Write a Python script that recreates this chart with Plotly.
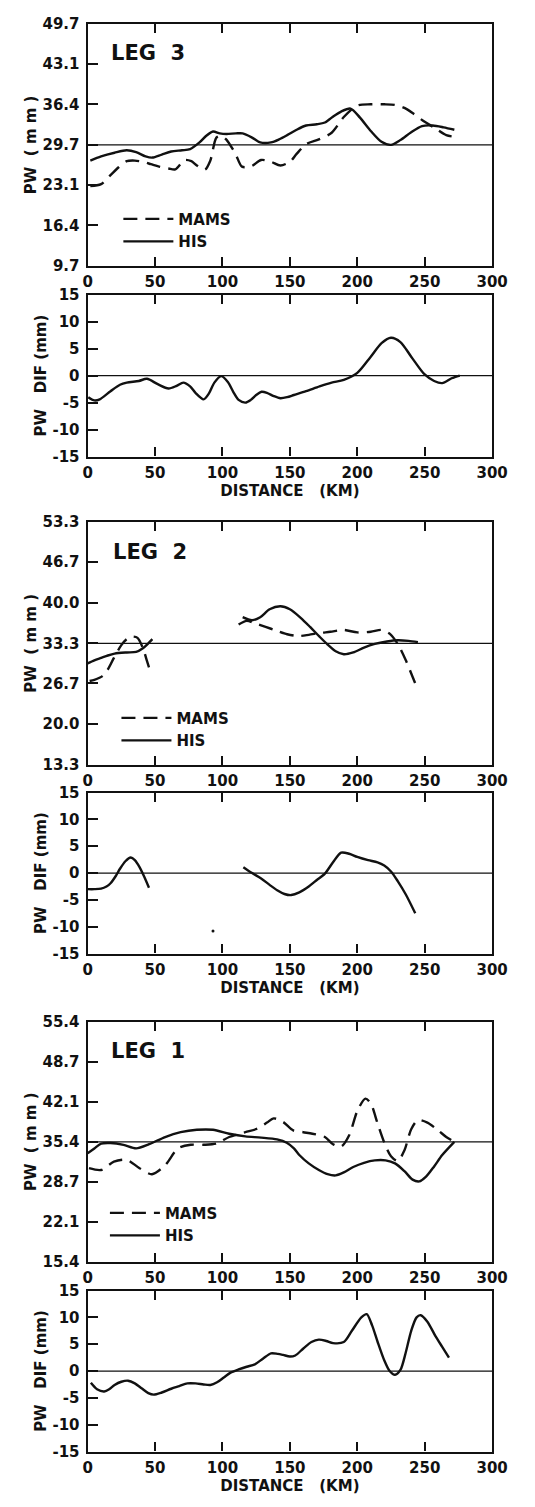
import plotly.graph_objects as go

W, H = 535, 1507

# ---------------- data ----------------
# LEG 3
leg3_his_x = [2, 10, 20, 29, 36, 43, 48, 55, 62, 70, 76, 83, 88, 93, 98, 103, 110, 115, 122, 128, 136, 142, 148, 155, 162, 170, 176, 181, 188, 195, 202, 210, 218, 225, 232, 240, 248, 256, 264, 272]
leg3_his_y = [27.1, 27.8, 28.4, 28.8, 28.5, 27.8, 27.6, 28.1, 28.6, 28.8, 29.0, 30.1, 31.2, 31.9, 31.6, 31.5, 31.6, 31.6, 30.9, 30.1, 30.1, 30.6, 31.3, 32.2, 32.9, 33.1, 33.4, 34.2, 35.2, 35.7, 34.2, 32.0, 30.2, 29.7, 30.5, 31.8, 32.8, 32.9, 32.6, 32.2]
leg3_mams_x = [2, 10, 17, 23, 29, 35, 41, 47, 53, 60, 65, 72, 77, 81, 87, 91, 95.5, 99, 102.6, 109.7, 114.5, 121.6, 128.7, 136, 143, 150, 155, 162, 171.5, 181, 190, 200, 210, 220, 228, 235, 242, 250, 258, 266, 273]
leg3_mams_y = [22.9, 23.2, 24.7, 26.0, 27.0, 27.1, 26.9, 26.5, 26.1, 25.8, 25.65, 27.2, 27.0, 26.3, 25.6, 27.1, 30.9, 31.2, 30.65, 28.2, 26.1, 26.2, 27.2, 26.9, 26.3, 26.9, 28.2, 29.8, 30.6, 31.7, 34.3, 36.2, 36.4, 36.4, 36.3, 35.8, 34.8, 33.5, 32.4, 31.3, 31.0]
leg3_dif_x = [0.5, 5, 9, 17, 24, 29, 38, 44, 52, 60, 66, 71, 76, 80, 86, 90, 94, 99, 104, 108, 112, 117, 121, 125, 129, 133, 138, 143, 148, 153, 162, 172, 181, 190, 200, 210, 218, 225, 232, 240, 250, 257, 263, 270, 276]
leg3_dif_y = [-4.0, -4.6, -4.4, -2.9, -1.7, -1.3, -1.0, -0.6, -1.6, -2.4, -1.9, -1.3, -2.0, -3.2, -4.4, -3.3, -1.3, -0.1, -1.2, -3.0, -4.5, -5.0, -4.5, -3.6, -3.0, -3.2, -3.8, -4.2, -4.0, -3.6, -2.9, -2.0, -1.3, -0.8, 0.5, 3.5, 6.0, 7.0, 6.2, 3.5, 0.2, -1.0, -1.4, -0.5, 0.0]

# LEG 2 (None = gap in the record)
leg2_his_x = [0, 5, 10, 15, 20, 29, 36, 41, 45, 48, None, 115, 122, 128, 135, 143, 150, 158, 165, 172, 178, 184, 190, 197, 205, 213, 222, 230, 238, 245]
leg2_his_y = [30.0, 30.5, 30.9, 31.3, 31.6, 31.8, 31.9, 32.5, 33.3, 34.0, None, 37.6, 37.1, 37.6, 38.9, 39.4, 38.9, 37.5, 36.0, 34.4, 33.1, 32.0, 31.5, 31.8, 32.6, 33.2, 33.6, 33.8, 33.7, 33.5]
leg2_mams_x = [1.5, 5, 11, 15, 19.5, 25, 29, 32.5, 37, 41, 44, 46, None, 112, 118, 124, 132, 140, 148, 156, 164, 172, 180, 190, 200, 210, 218, 224, 230, 236, 241, 245]
leg2_mams_y = [27.1, 27.3, 27.9, 29.0, 30.9, 33.0, 34.0, 34.4, 34.2, 32.5, 30.4, 29.0, None, 36.4, 37.0, 36.6, 36.0, 35.4, 34.8, 34.5, 34.7, 35.0, 35.2, 35.5, 35.1, 35.2, 35.5, 34.9, 33.2, 30.5, 27.8, 25.6]
leg2_dif_x = [0, 5, 10, 14, 17, 21, 24, 28, 32, 35, 38.5, 42, 45.5, None, 115.5, 122, 128.7, 135, 140.6, 146, 151, 157, 164, 170, 176, 182, 188, 194, 200, 208, 215, 220, 225, 230, 236, 243]
leg2_dif_y = [-3.0, -3.0, -2.9, -2.5, -1.9, -0.5, 0.8, 2.2, 2.9, 2.4, 1.1, -0.7, -2.75, None, 1.1, 0.0, -1.0, -2.2, -3.2, -3.9, -4.1, -3.6, -2.5, -1.3, -0.1, 2.0, 3.8, 3.6, 3.0, 2.4, 2.0, 1.4, 0.3, -1.5, -4.0, -7.5]
leg2_speck_x = [93]
leg2_speck_y = [-10.8]

# LEG 1
leg1_his_x = [0, 5, 10, 17, 26.6, 36, 45.6, 57.5, 69, 81, 93, 105, 117, 128.7, 140.5, 147.7, 153, 157, 164, 171.5, 178, 184, 190, 197, 205, 213, 221, 228, 235, 241, 246, 251, 257, 263, 272]
leg1_his_y = [33.5, 34.3, 35.1, 35.2, 34.9, 34.3, 35.0, 36.2, 37.0, 37.4, 37.4, 36.75, 36.3, 36.1, 35.8, 35.25, 34.3, 33.2, 31.8, 30.7, 30.0, 29.8, 30.3, 31.2, 31.9, 32.3, 32.3, 31.8, 30.5, 29.1, 28.8, 29.6, 31.3, 33.2, 35.4]
leg1_mams_x = [1, 10, 19.5, 29, 38.5, 47.7, 57.5, 67, 76.5, 86, 95.5, 105, 117, 126, 133, 138, 145, 152.5, 160, 166.7, 176, 182, 188, 194, 200, 206, 210, 215, 220, 225, 230, 235, 240, 245, 252, 260, 266, 272]
leg1_mams_y = [31.0, 30.7, 32.1, 32.4, 31.0, 30.0, 31.5, 34.3, 34.9, 34.9, 35.1, 36.2, 37.0, 37.6, 38.6, 39.3, 38.7, 37.3, 37.0, 36.75, 36.2, 35.0, 34.6, 36.5, 40.5, 42.6, 41.8, 38.5, 35.3, 33.0, 32.2, 34.0, 37.5, 39.0, 38.6, 37.3, 36.2, 35.4]
leg1_dif_x = [2.4, 7, 12.3, 16, 20, 25, 30, 35, 40, 45, 49, 55, 62, 68, 74, 80, 86, 91, 96, 101, 106, 112, 118, 124, 130, 136, 141, 145, 150, 154, 160, 166, 171.5, 177, 182, 190, 196, 203, 207, 211, 215, 220, 224, 228, 232, 236, 240, 244, 247, 252, 258, 263, 268]
leg1_dif_y = [-2.2, -3.4, -3.8, -3.4, -2.6, -2.0, -1.8, -2.3, -3.2, -4.1, -4.4, -4.0, -3.3, -2.8, -2.3, -2.3, -2.5, -2.6, -2.1, -1.2, -0.3, 0.3, 0.8, 1.25, 2.3, 3.3, 3.2, 3.0, 2.7, 2.9, 4.2, 5.4, 5.85, 5.6, 5.2, 5.4, 7.5, 10.0, 10.6, 8.5, 5.5, 2.0, 0.0, -0.7, 0.2, 3.5, 7.5, 10.0, 10.4, 9.2, 6.5, 4.5, 2.5]

# axes / labels
leg_names = ["LEG\u00a0\u00a03", "LEG\u00a0\u00a02", "LEG\u00a0\u00a01"]
pw_ranges = [(9.7, 49.7), (13.3, 53.3), (15.4, 55.4)]
pw_ticks = [[9.7, 16.4, 23.1, 29.7, 36.4, 43.1, 49.7],
            [13.3, 20.0, 26.7, 33.3, 40.0, 46.7, 53.3],
            [15.4, 22.1, 28.7, 35.4, 42.1, 48.7, 55.4]]
pw_ref = [29.7, 33.3, 35.4]
dif_ticks = [-15, -10, -5, 0, 5, 10, 15]
dif_ticktext = ["-15", "-10", "-5", "0", "5", "10", "15"]
dif_ref = 0
x_ticks = [0, 50, 100, 150, 200, 250, 300]
pw_title = "PW\u00a0\u00a0(\u00a0m\u00a0m\u00a0)"
dif_title = "PW\u00a0\u00a0\u00a0DIF\u00a0(mm)"
x_title = "DISTANCE\u00a0\u00a0\u00a0(KM)"

# ---------------- layout geometry (pixels) ----------------
pw_px = [(15, 260), (519, 765), (1025, 1268)]
dif_px = [(289, 453), (793, 956), (1297, 1460)]
x_px = (86, 507)

FONT = "DejaVu Sans"
BLACK = "#111111"
LW = 2.4


def ydom(top, bot):
    return [1 - bot / H, 1 - top / H]


fig = go.Figure()

his = [(leg3_his_x, leg3_his_y), (leg2_his_x, leg2_his_y), (leg1_his_x, leg1_his_y)]
mams = [(leg3_mams_x, leg3_mams_y), (leg2_mams_x, leg2_mams_y), (leg1_mams_x, leg1_mams_y)]
dif = [(leg3_dif_x, leg3_dif_y), (leg2_dif_x, leg2_dif_y), (leg1_dif_x, leg1_dif_y)]
legend_ids = ["legend", "legend2", "legend3"]
legend_pos_px = [(118, 196), (116, 701), (104, 1202)]

layout = dict(
    width=W, height=H,
    margin=dict(l=0, r=0, t=0, b=0),
    paper_bgcolor="white", plot_bgcolor="white",
    font=dict(family=FONT, size=15, color=BLACK, weight="bold"),
    showlegend=True,
)

for i in range(3):
    ax_pw = 2 * i + 1
    ax_df = 2 * i + 2
    xa_pw = "x" if ax_pw == 1 else f"x{ax_pw}"
    ya_pw = "y" if ax_pw == 1 else f"y{ax_pw}"
    xa_df = f"x{ax_df}"
    ya_df = f"y{ax_df}"

    # PW panel
    fig.add_trace(go.Scatter(x=mams[i][0], y=mams[i][1], mode="lines", name="MAMS",
                             line=dict(color=BLACK, width=LW, dash="14px,8px", shape="spline", smoothing=0.8),
                             xaxis=xa_pw, yaxis=ya_pw, legend=legend_ids[i], connectgaps=False))
    fig.add_trace(go.Scatter(x=his[i][0], y=his[i][1], mode="lines", name="HIS",
                             line=dict(color=BLACK, width=LW, shape="spline", smoothing=0.8),
                             xaxis=xa_pw, yaxis=ya_pw, legend=legend_ids[i], connectgaps=False))
    # reference line
    fig.add_trace(go.Scatter(x=[0, 300], y=[pw_ref[i], pw_ref[i]], mode="lines", showlegend=False,
                             line=dict(color=BLACK, width=1.3), xaxis=xa_pw, yaxis=ya_pw))
    # DIF panel
    fig.add_trace(go.Scatter(x=dif[i][0], y=dif[i][1], mode="lines", showlegend=False,
                             line=dict(color=BLACK, width=LW, shape="spline", smoothing=0.8),
                             xaxis=xa_df, yaxis=ya_df, connectgaps=False))
    fig.add_trace(go.Scatter(x=[0, 300], y=[dif_ref, dif_ref], mode="lines", showlegend=False,
                             line=dict(color=BLACK, width=1.3), xaxis=xa_df, yaxis=ya_df))

    xcommon = dict(range=[0, 300], tickvals=x_ticks, ticks="inside", ticklen=9, tickwidth=2,
                   tickcolor=BLACK, showline=True, linewidth=2.2, linecolor=BLACK, mirror="ticks",
                   showgrid=False, zeroline=False, domain=[x_px[0] / W, x_px[1] / W],
                   tickfont=dict(size=15), ticklabelstandoff=1)
    ycommon = dict(ticks="inside", ticklen=10, tickwidth=2, tickcolor=BLACK, showline=True,
                   linewidth=2.2, linecolor=BLACK, mirror=True, showgrid=False, zeroline=False,
                   tickfont=dict(size=15), ticklabelstandoff=3)

    layout["xaxis" if ax_pw == 1 else f"xaxis{ax_pw}"] = dict(xcommon, anchor=ya_pw)
    layout[f"xaxis{ax_df}"] = dict(xcommon, anchor=ya_df,
                                   title=dict(text=x_title, font=dict(size=15), standoff=1))
    layout["yaxis" if ax_pw == 1 else f"yaxis{ax_pw}"] = dict(
        ycommon, anchor=xa_pw, range=list(pw_ranges[i]), tickvals=pw_ticks[i], tickformat=".1f",
        domain=ydom(*pw_px[i]), title=dict(text=pw_title, font=dict(size=15), standoff=2))
    layout[f"yaxis{ax_df}"] = dict(
        ycommon, anchor=xa_df, range=[-15, 15], tickvals=dif_ticks, ticktext=dif_ticktext,
        domain=ydom(*dif_px[i]), title=dict(text=dif_title, font=dict(size=15), standoff=2))

    layout[legend_ids[i]] = dict(x=legend_pos_px[i][0] / W, y=1 - legend_pos_px[i][1] / H,
                                 xanchor="left", yanchor="top",
                                 bgcolor="rgba(0,0,0,0)", borderwidth=0,
                                 font=dict(size=15, family=FONT, weight="bold"),
                                 itemwidth=50, tracegroupgap=0)

# stray speck on LEG 2 DIF panel
fig.add_trace(go.Scatter(x=leg2_speck_x, y=leg2_speck_y, mode="markers", showlegend=False,
                         marker=dict(color=BLACK, size=3), xaxis="x4", yaxis="y4"))

annotations = []
leg_label_px = [(108, 45), (110, 550), (108, 1055)]
for i in range(3):
    annotations.append(dict(text=leg_names[i], xref="paper", yref="paper",
                            x=leg_label_px[i][0] / W, y=1 - leg_label_px[i][1] / H,
                            xanchor="left", yanchor="middle", showarrow=False,
                            font=dict(size=21, family=FONT, weight="bold", color=BLACK)))
layout["annotations"] = annotations

fig.update_layout(**layout)
fig.write_html("out.html")
